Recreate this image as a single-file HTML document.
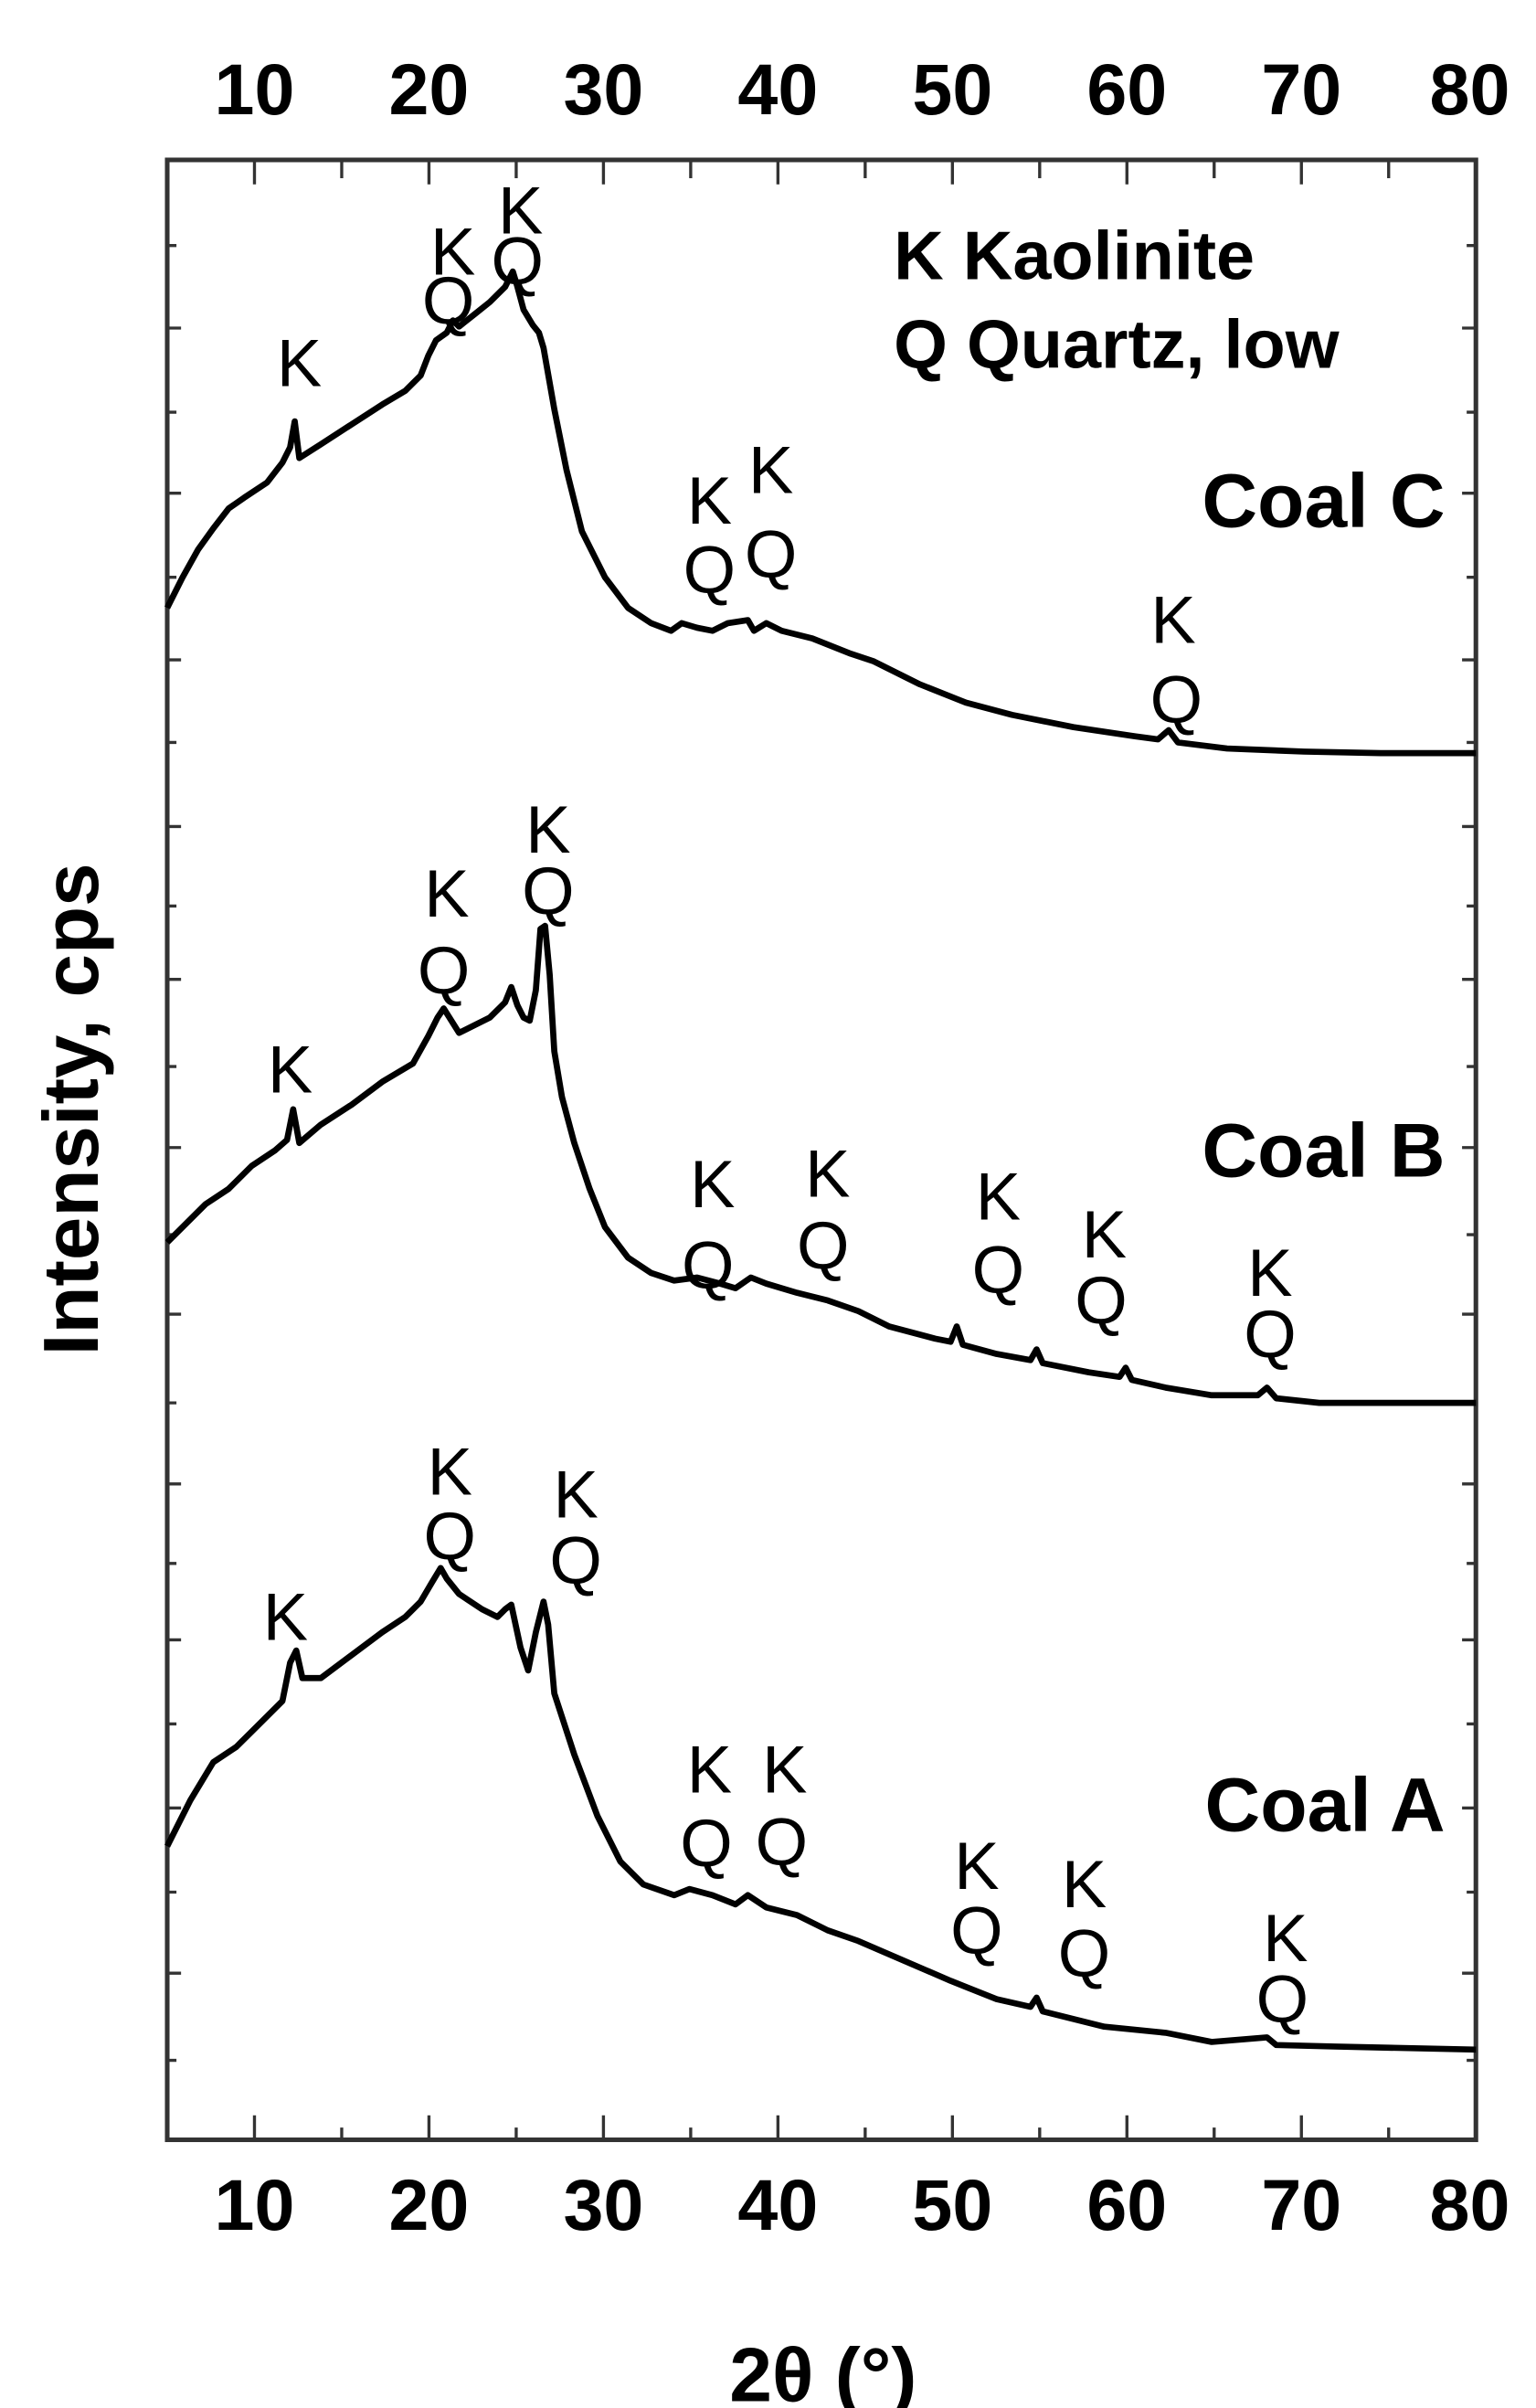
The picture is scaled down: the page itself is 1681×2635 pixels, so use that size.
<!DOCTYPE html>
<html><head><meta charset="utf-8"><style>
html,body{margin:0;padding:0;background:#fff;}
svg{display:block;}
text{font-family:"Liberation Sans",Arial,sans-serif;fill:#000;}
.b{font-weight:bold;}
.pk{font-size:44px;text-anchor:middle;}
</style></head><body>
<svg width="1681" height="2635" viewBox="0 0 1681 2635" xmlns="http://www.w3.org/2000/svg">
<g transform="matrix(1.681,0,0,1.673,-1.9,12.7)">
<rect x="110" y="97" width="852" height="1295" fill="none" stroke="#333" stroke-width="3"/>
<g stroke="#333" stroke-width="2">
<path d="M166.8 1392v-16M280.4 1392v-16M394 1392v-16M507.6 1392v-16M621.2 1392v-16M734.8 1392v-16M848.4 1392v-16"/>
<path d="M223.6 1392v-8M337.2 1392v-8M450.8 1392v-8M564.4 1392v-8M678 1392v-8M791.6 1392v-8M905.2 1392v-8"/>
<path d="M166.8 97v16M280.4 97v16M394 97v16M507.6 97v16M621.2 97v16M734.8 97v16M848.4 97v16"/>
<path d="M223.6 97v12M337.2 97v12M450.8 97v12M564.4 97v12M678 97v12M791.6 97v12M905.2 97v12"/>
<path d="M110 153h6M110 207h9M110 262h6M110 315h9M110 370h6M110 424h9M110 478h6M110 533h9M110 585h6M110 633h9M110 690h6M110 743h9M110 800h6M110 852h9M110 910h6M110 963h9M110 1015h6M110 1065h9M110 1120h6M110 1175h9M110 1230h6M110 1283h9M110 1340h6"/>
<path d="M962 153h-6M962 207h-9M962 262h-6M962 315h-9M962 370h-6M962 424h-9M962 478h-6M962 533h-9M962 585h-6M962 633h-9M962 690h-6M962 743h-9M962 800h-6M962 852h-9M962 910h-6M962 963h-9M962 1015h-6M962 1065h-9M962 1120h-6M962 1175h-9M962 1230h-6M962 1283h-9M962 1340h-6"/>
</g>
<g class="b" font-size="47" text-anchor="middle">
<text x="166.8" y="67">10</text><text x="280.4" y="67">20</text><text x="394" y="67">30</text><text x="507.6" y="67">40</text><text x="621.2" y="67">50</text><text x="734.8" y="67">60</text><text x="848.4" y="67">70</text><text x="958" y="67">80</text>
<text x="166.8" y="1451">10</text><text x="280.4" y="1451">20</text><text x="394" y="1451">30</text><text x="507.6" y="1451">40</text><text x="621.2" y="1451">50</text><text x="734.8" y="1451">60</text><text x="848.4" y="1451">70</text><text x="958" y="1451">80</text>
</g>
<text class="b" font-size="50" text-anchor="middle" x="537" y="1563">2θ (°)</text>
<text class="b" font-size="51" text-anchor="middle" transform="translate(64.8,718) rotate(-90)">Intensity, cps</text>
<text class="b" font-size="45" x="583" y="175">K Kaolinite</text>
<text class="b" font-size="45" x="583" y="233">Q Quartz, low</text>
<text class="b" font-size="50" x="942" y="337" text-anchor="end">Coal C</text>
<text class="b" font-size="50" x="942" y="762" text-anchor="end">Coal B</text>
<text class="b" font-size="50" x="942" y="1190" text-anchor="end">Coal A</text>
<g fill="none" stroke="#000" stroke-width="4" stroke-linejoin="round">
<polyline points="110,390 120,370 130,352 140,338 150,325 160,318 175,308 185,295 190,285 193,268 196,292 210,283 230,270 250,257 265,248 275,238 280,225 285,215 292,210 296,202 300,206 310,198 320,190 330,180 335,170 338,180 342,195 348,205 352,210 355,220 362,260 370,300 380,340 395,370 410,390 425,400 438,405 445,400 455,403 465,405 475,400 488,398 492,405 500,400 510,405 530,410 555,420 570,425 600,440 630,452 660,460 700,468 740,474 755,476 762,470 768,478 800,482 850,484 900,485 962,485"/>
<polyline points="110,805 120,795 135,780 150,770 165,755 180,745 188,738 192,718 196,740 210,728 230,715 250,700 270,688 280,670 286,658 290,652 295,660 300,668 310,663 320,658 330,648 334,638 338,650 342,658 346,660 350,640 353,600 356,598 359,630 362,680 367,710 375,740 385,770 395,795 410,815 425,825 440,830 455,828 470,832 480,835 490,828 500,832 520,838 540,843 560,850 580,860 610,868 620,870 624,860 628,872 650,878 672,882 676,875 680,884 710,890 730,893 734,887 738,895 760,900 790,905 820,905 826,900 832,907 860,910 900,910 962,910"/>
<polyline points="110,1200 125,1170 140,1145 155,1135 170,1120 185,1105 190,1080 194,1072 198,1090 210,1090 230,1075 250,1060 265,1050 275,1040 282,1028 288,1018 292,1025 300,1035 315,1045 325,1050 330,1045 334,1042 340,1070 345,1085 350,1060 355,1040 358,1055 362,1100 375,1140 390,1180 405,1210 420,1225 440,1232 450,1228 465,1232 480,1238 488,1232 500,1240 520,1245 540,1255 560,1262 590,1275 620,1288 630,1292 650,1300 672,1305 676,1299 680,1308 720,1318 760,1322 790,1328 826,1325 832,1330 870,1331 962,1333"/>
</g>
<g class="pk">
<text x="196" y="245">K</text>
<text x="296" y="172">K</text><text x="293" y="204">Q</text>
<text x="340" y="145">K</text><text x="338" y="178">Q</text>
<text x="463" y="335">K</text><text x="463" y="380">Q</text>
<text x="503" y="315">K</text><text x="503" y="370">Q</text>
<text x="765" y="413">K</text><text x="767" y="465">Q</text>
<text x="190" y="707">K</text>
<text x="292" y="592">K</text><text x="290" y="642">Q</text>
<text x="358" y="550">K</text><text x="358" y="590">Q</text>
<text x="465" y="782">K</text><text x="462" y="835">Q</text>
<text x="540" y="775">K</text><text x="537" y="822">Q</text>
<text x="651" y="790">K</text><text x="651" y="838">Q</text>
<text x="720" y="815">K</text><text x="718" y="858">Q</text>
<text x="828" y="840">K</text><text x="828" y="880">Q</text>
<text x="187" y="1065">K</text>
<text x="294" y="970">K</text><text x="294" y="1012">Q</text>
<text x="376" y="985">K</text><text x="376" y="1028">Q</text>
<text x="463" y="1165">K</text><text x="461" y="1213">Q</text>
<text x="512" y="1165">K</text><text x="510" y="1212">Q</text>
<text x="637" y="1228">K</text><text x="637" y="1270">Q</text>
<text x="707" y="1240">K</text><text x="707" y="1285">Q</text>
<text x="838" y="1275">K</text><text x="836" y="1315">Q</text>
</g>
</g>
</svg>
</body></html>
